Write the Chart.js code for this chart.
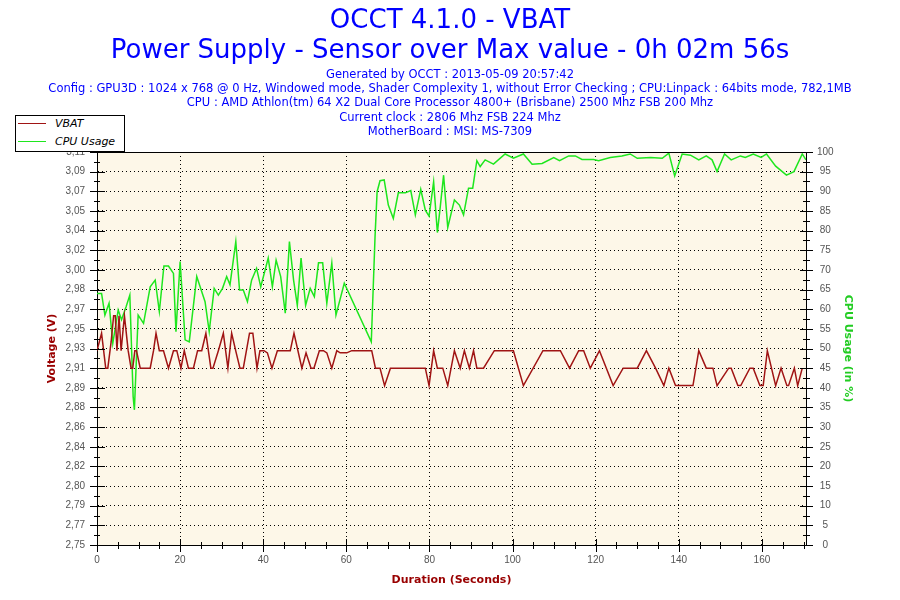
<!DOCTYPE html>
<html>
<head>
<meta charset="utf-8">
<script src="https://cdn.jsdelivr.net/npm/chart.js@4.4.1/dist/chart.umd.min.js"></script>
<style>
  html, body { margin: 0; padding: 0; background: #fff; overflow: hidden; }
  #wrap { position: relative; width: 900px; height: 600px; }
  #legend { position: absolute; left: 15px; top: 115px; width: 108px; height: 35px;
            border: 1px solid #000; background: #fff; font: italic 11px "DejaVu Sans", sans-serif; color: #000; }
  #legend .rows { position: relative; top: -1px; }
  #legend .row { height: 17.6px; display: flex; align-items: center; white-space: nowrap; }
  #legend .sw { display: inline-block; width: 28px; height: 0; border-top: 1px solid #000; margin-left: 2px; margin-right: 9px; }
</style>
</head>
<body>
<div id="wrap">
  <canvas id="c" width="900" height="600"></canvas>
  <div id="legend"><div class="rows"></div></div>
</div>
<script>
// ---- Data ----
const titleLines = ['OCCT 4.1.0 - VBAT', 'Power Supply - Sensor over Max value - 0h 02m 56s'];
const infoLines = [
  'Generated by OCCT : 2013-05-09 20:57:42',
  'Config : GPU3D : 1024 x 768 @ 0 Hz, Windowed mode, Shader Complexity 1, without Error Checking ; CPU:Linpack : 64bits mode, 782,1MB',
  'CPU : AMD Athlon(tm) 64 X2 Dual Core Processor 4800+ (Brisbane) 2500 Mhz FSB 200 Mhz',
  'Current clock : 2806 Mhz FSB 224 Mhz',
  'MotherBoard : MSI: MS-7309'
];
const seriesNames = ['VBAT', 'CPU Usage'];

const vbatTimes = [0, 1.1, 2.1, 2.6, 3.4, 4.0, 4.4, 4.8, 5.3, 5.8, 6.6, 7.5, 8.2, 8.6, 9.1, 9.5, 10.4, 12.8, 13.6, 14.2,
  15.0, 16.0, 17.2, 18.4, 19.2, 20.2, 21.0, 22.0, 23.2, 24.2, 25.2, 26.2, 27.4, 27.9, 29.2, 30.4, 31.5, 32.4, 33.5, 34.4,
  35.2, 36.7, 37.5, 38.5, 39.2, 40.2, 41.0, 42.1, 43.4, 46.5, 47.4, 49.3, 50.3, 51.5, 52.2, 53.5, 54.5, 55.3, 56.5, 57.7,
  58.5, 60.1, 61.3, 66.1, 67.0, 68.1, 69.2, 70.6, 79.0, 79.9, 81.0, 81.9, 83.2, 84.4, 86.0, 87.4, 88.4, 89.6, 90.6, 91.4,
  93.0, 95.6, 100.2, 102.6, 107.3, 111.5, 113.7, 115.9, 117.1, 118.7, 120.9, 124.2, 126.6, 130.0, 132.2, 134.4, 136.4, 137.6, 139.2, 142.0,
  143.4, 144.8, 146.6, 148.2, 149.2, 152.0, 152.6, 154.2, 154.9, 157.1, 157.9, 159.5, 160.3, 161.3, 163.3, 164.6, 166.0, 166.4, 167.8, 168.6,
  169.7];
const vbatVolts = [2.928, 2.944, 2.912, 2.912, 2.936, 2.960, 2.960, 2.928, 2.960, 2.928, 2.960, 2.928, 2.912, 2.912, 2.928, 2.928, 2.912, 2.912, 2.928, 2.944,
  2.928, 2.928, 2.912, 2.928, 2.928, 2.912, 2.928, 2.912, 2.912, 2.928, 2.928, 2.944, 2.912, 2.912, 2.928, 2.944, 2.912, 2.944, 2.926, 2.912,
  2.912, 2.944, 2.944, 2.912, 2.928, 2.928, 2.926, 2.912, 2.928, 2.928, 2.944, 2.912, 2.926, 2.912, 2.912, 2.928, 2.928, 2.926, 2.912, 2.928,
  2.926, 2.926, 2.928, 2.928, 2.912, 2.912, 2.896, 2.912, 2.912, 2.896, 2.928, 2.912, 2.912, 2.896, 2.928, 2.912, 2.928, 2.912, 2.928, 2.912,
  2.912, 2.928, 2.928, 2.896, 2.928, 2.928, 2.912, 2.928, 2.928, 2.912, 2.928, 2.896, 2.912, 2.912, 2.928, 2.912, 2.896, 2.912, 2.896, 2.896,
  2.896, 2.928, 2.912, 2.912, 2.896, 2.912, 2.912, 2.896, 2.896, 2.912, 2.912, 2.896, 2.896, 2.928, 2.896, 2.912, 2.896, 2.896, 2.912, 2.896,
  2.912];

const cpuTimes = [0, 1.1, 1.9, 2.9, 3.8, 5.1, 5.9, 7.0, 7.9, 8.7, 9.0, 9.9, 11.2, 12.8, 14.0, 15.0, 16.1, 17.2, 18.4, 19.0,
  20.0, 21.2, 22.2, 24.0, 26.0, 27.0, 28.2, 29.2, 30.2, 31.2, 32.0, 33.4, 34.3, 35.2, 36.2, 37.2, 38.4, 39.4, 41.2, 42.2,
  43.1, 44.2, 45.3, 46.3, 47.3, 48.2, 49.1, 50.2, 51.3, 52.3, 53.3, 54.3, 55.3, 56.5, 57.5, 59.5, 66.0, 66.9, 67.4, 68.1,
  69.1, 70.1, 71.3, 72.5, 74.2, 75.5, 76.6, 77.9, 79.0, 79.9, 81.0, 81.9, 82.6, 83.4, 84.4, 86.0, 87.2, 88.2, 89.4, 90.4,
  91.4, 92.2, 93.4, 95.4, 98.2, 100.2, 102.6, 104.7, 107.1, 109.9, 111.3, 113.5, 115.1, 116.7, 119.5, 120.7, 123.5, 126.3, 128.3, 130.0,
  133.2, 136.0, 137.6, 139.0, 140.8, 142.8, 144.8, 146.6, 148.0, 149.2, 151.0, 152.6, 154.8, 156.0, 157.9, 159.8, 161.1, 163.3, 165.9, 167.7,
  169.7, 170.6];
const cpuUsage = [64, 64, 58.5, 61.5, 51.3, 59.8, 57.3, 60.6, 63.6, 37.7, 34.4, 58.5, 56.4, 65.7, 67.4, 59.4, 71, 71, 69.1, 54.3,
  72.1, 52.2, 51.7, 68.3, 61.9, 54.3, 65.3, 63.6, 65.3, 68.3, 66.2, 77.2, 64.9, 64.9, 61.9, 67.4, 70.4, 65.7, 73, 65.7,
  72.5, 68.3, 59, 77.2, 67.4, 61, 73, 61, 65.3, 63.2, 71.8, 71.8, 61.5, 71.7, 58.5, 66.6, 51.7, 78.4, 89.9, 92.7,
  92.9, 86.5, 83.1, 89.6, 89.6, 90.2, 84, 90.5, 85.2, 83.7, 92.4, 79.5, 86.1, 94.1, 80.8, 87.8, 86.5, 84, 90.8, 90.8,
  97.8, 96.3, 98, 96.9, 99.5, 98.4, 99.5, 96.9, 97.1, 98.6, 97.8, 99, 99, 98.1, 98.1, 97.8, 98.6, 99, 99.5, 98.4,
  98.6, 98.4, 99.7, 93.9, 99.5, 99.2, 98, 99, 98, 95, 99.5, 98, 99, 98.6, 99.5, 98.6, 99.5, 96.4, 94.1, 95,
  99.5, 98];

const xTickValues = [0, 20, 40, 60, 80, 100, 120, 140, 160];
const voltTickLabels = ['2,75', '2,77', '2,79', '2,80', '2,82', '2,84', '2,86', '2,88', '2,89', '2,91', '2,93',
  '2,95', '2,97', '2,98', '3,00', '3,02', '3,04', '3,05', '3,07', '3,09', '3,11'];
const cpuTickValues = [0, 5, 10, 15, 20, 25, 30, 35, 40, 45, 50, 55, 60, 65, 70, 75, 80, 85, 90, 95, 100];

// ---- Styling ----
const RED = '#a01414';
const GREEN = '#1ee61e';
const AXIS_RED = '#990000';
const AXIS_GREEN = '#22cc22';
const BLUE = '#0000ff';
const TICK_COLOR = '#555555';
const TICK_FONT = { family: '"Liberation Sans", Arial, sans-serif', size: 10 };

const frame = {
  id: 'frame',
  beforeDraw(chart) {
    const { ctx, chartArea: a } = chart;
    ctx.save();
    ctx.fillStyle = '#fdf7e8';
    ctx.fillRect(a.left, a.top, a.right - a.left, a.bottom - a.top);
    ctx.restore();
  },
  afterDraw(chart) {
    const { ctx, chartArea: a, scales } = chart;
    ctx.save();
    ctx.strokeStyle = '#000';
    ctx.lineWidth = 1;
    const seg = (x1, y1, x2, y2) => { ctx.beginPath(); ctx.moveTo(x1, y1); ctx.lineTo(x2, y2); ctx.stroke(); };
    const px = v => Math.round(v) + 0.5;
    // top border
    seg(Math.round(a.left), px(a.top), Math.round(a.right) + 1, px(a.top));
    // left axis ticks
    const y = scales.y, yl = Math.round(a.left);
    y.ticks.forEach((t, i) => {
      const p = px(y.getPixelForValue(t.value));
      seg(yl - 7, p, yl + 8, p);
      if (i < y.ticks.length - 1) {
        const m = px(y.getPixelForValue((t.value + y.ticks[i + 1].value) / 2));
        seg(yl - 3, m, yl + 3, m);
      }
    });
    // right axis ticks
    const y1 = scales.y1, yr = Math.round(a.right);
    y1.ticks.forEach((t, i) => {
      const p = px(y1.getPixelForValue(t.value));
      seg(yr - 6, p, yr + 7, p);
      if (i < y1.ticks.length - 1) {
        const m = px(y1.getPixelForValue((t.value + y1.ticks[i + 1].value) / 2));
        seg(yr - 3, m, yr + 4, m);
      }
    });
    // x axis ticks (major at labels, minor every quarter)
    const x = scales.x, xb = Math.round(a.bottom);
    const step = xTickValues[1] - xTickValues[0];
    for (let v = 0; v <= x.max; v += step / 4) {
      const p = px(x.getPixelForValue(v));
      const major = xTickValues.includes(v);
      if (major) seg(p, xb - 6, p, xb + 7); else seg(p, xb - 3, p, xb + 4);
    }
    ctx.restore();
  }
};

const chart = new Chart(document.getElementById('c'), {
  type: 'line',
  data: {
    datasets: [
      {
        label: seriesNames[0],
        data: vbatTimes.map((t, i) => ({ x: t, y: vbatVolts[i] })),
        borderColor: RED, backgroundColor: RED, borderWidth: 1.5,
        pointRadius: 0, tension: 0, yAxisID: 'y'
      },
      {
        label: seriesNames[1],
        data: cpuTimes.map((t, i) => ({ x: t, y: cpuUsage[i] })),
        borderColor: GREEN, backgroundColor: GREEN, borderWidth: 1.5,
        pointRadius: 0, tension: 0, yAxisID: 'y1'
      }
    ]
  },
  options: {
    responsive: false,
    animation: false,
    devicePixelRatio: 1,
    layout: { padding: 0 },
    plugins: {
      legend: { display: false },
      tooltip: { enabled: false },
      title: {
        display: true, text: titleLines, color: BLUE,
        font: { family: '"DejaVu Sans", sans-serif', size: 26, weight: 'normal', lineHeight: 30 / 26 },
        padding: { top: 6.5, bottom: 0 }
      },
      subtitle: {
        display: true, text: infoLines, color: BLUE,
        font: { family: '"DejaVu Sans", sans-serif', size: 11.5, weight: 'normal', lineHeight: 14.25 / 11.5 },
        padding: { top: 1.375, bottom: 12.875 }
      }
    },
    scales: {
      x: {
        type: 'linear', position: 'bottom', min: 0, max: 170.6,
        afterBuildTicks: s => { s.ticks = xTickValues.map(v => ({ value: v })); },
        afterFit: s => { s.height = 55; },
        ticks: { color: TICK_COLOR, font: TICK_FONT, padding: 9, maxRotation: 0, autoSkip: false,
                 callback: v => String(v) },
        grid: { display: true, color: '#000', lineWidth: 1, drawTicks: false },
        border: { display: true, color: '#000', width: 1, dash: [1, 3] },
        title: { display: true, text: 'Duration (Seconds)', color: AXIS_RED,
                 font: { family: '"DejaVu Sans", sans-serif', size: 11, weight: 'bold' },
                 padding: { top: 0, bottom: 13.4 } }
      },
      y: {
        type: 'linear', position: 'left', min: 2.75, max: 3.11,
        afterBuildTicks: s => {
          s.ticks = voltTickLabels.map((l, i) => ({ value: s.min + (s.max - s.min) * i / (voltTickLabels.length - 1) }));
        },
        afterFit: s => { s.width = 97; },
        ticks: { color: TICK_COLOR, font: TICK_FONT, padding: 12, autoSkip: false,
                 callback: (v, i) => voltTickLabels[i] },
        grid: { display: true, color: '#000', lineWidth: 1, drawTicks: false },
        border: { display: true, color: '#000', width: 1, dash: [1, 3] },
        title: { display: true, text: 'Voltage (V)', color: AXIS_RED,
                 font: { family: '"DejaVu Sans", sans-serif', size: 11, weight: 'bold' },
                 padding: { top: 45.4, bottom: 0 } }
      },
      y1: {
        type: 'linear', position: 'right', min: 0, max: 100,
        afterBuildTicks: s => { s.ticks = cpuTickValues.map(v => ({ value: v })); },
        afterFit: s => { s.width = 94; },
        ticks: { color: TICK_COLOR, font: TICK_FONT, padding: 11, autoSkip: false, crossAlign: 'center',
                 callback: v => String(v) },
        grid: { display: true, drawOnChartArea: false, drawTicks: false, color: '#000' },
        border: { display: true, color: '#000', width: 1 },
        title: { display: true, text: 'CPU Usage (in %)', color: AXIS_GREEN,
                 font: { family: '"DejaVu Sans", sans-serif', size: 11, weight: 'bold' },
                 padding: { top: 45.4, bottom: 0 } }
      }
    }
  },
  plugins: [frame]
});

// HTML legend built from the chart's datasets
const rows = document.querySelector('#legend .rows');
chart.data.datasets.forEach(ds => {
  const row = document.createElement('div');
  row.className = 'row';
  const sw = document.createElement('span');
  sw.className = 'sw';
  sw.style.borderTopColor = ds.borderColor;
  const tx = document.createElement('span');
  tx.textContent = ds.label;
  row.append(sw, tx);
  rows.append(row);
});
</script>
</body>
</html>
